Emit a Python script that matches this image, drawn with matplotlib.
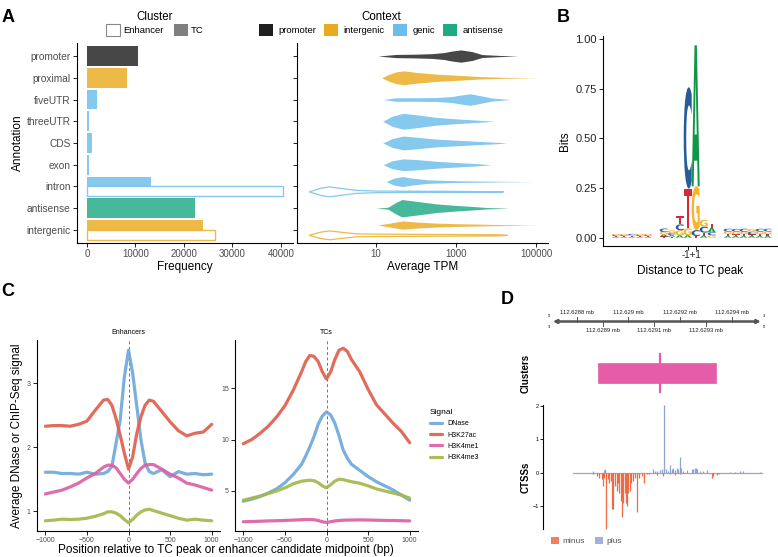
import numpy as np
import matplotlib
matplotlib.use('Agg')
import matplotlib.pyplot as plt
from matplotlib.patches import Rectangle, PathPatch, Patch
from matplotlib.textpath import TextPath
from matplotlib.font_manager import FontProperties
from matplotlib.transforms import Affine2D
from matplotlib.ticker import FixedLocator, FixedFormatter, NullLocator

plt.rcParams['font.family'] = ['Liberation Sans', 'DejaVu Sans']

# ---------------- Panel A data ----------------
annotations = ['promoter', 'proximal', 'fiveUTR', 'threeUTR', 'CDS', 'exon', 'intron', 'antisense', 'intergenic']
annot_context = ['promoter', 'intergenic', 'genic', 'genic', 'genic', 'genic', 'genic', 'antisense', 'intergenic']
tc_freq = [10550, 8220, 2120, 480, 1160, 550, 13150, 22300, 23900]
enh_freq = [0, 0, 0, 0, 0, 0, 40500, 0, 26500]
context_names = ['promoter', 'intergenic', 'genic', 'antisense']
context_colors = ['#000000', '#E69F00', '#56B4E9', '#009E73']

# violin profiles: log10(TPM) knots and half-widths (category units)
prom_x = [1.05, 1.5, 2.0, 2.4, 2.7, 2.9, 3.12, 3.4, 3.65, 4.1, 4.55]
prom_w = [0, .073, .087, .11, .16, .23, .283, .205, .068, .027, 0]
prox_x = [1.14, 1.3, 1.5, 1.7, 2.0, 2.5, 3.0, 3.6, 4.2, 5.0]
prox_w = [0, .14, .27, .32, .25, .17, .12, .055, .023, 0]
five_x = [1.18, 1.5, 2.0, 2.5, 2.9, 3.1, 3.35, 3.6, 3.9, 4.36]
five_w = [0, .082, .082, .09, .14, .2, .265, .18, .07, 0]
three_x = [1.17, 1.4, 1.68, 2.0, 2.5, 3.0, 3.5, 3.97]
three_w = [0, .23, .365, .3, .18, .11, .055, 0]
cds_x = [1.17, 1.4, 1.68, 2.0, 2.5, 3.0, 3.5, 4.0, 4.27]
cds_w = [0, .2, .32, .27, .18, .13, .08, .036, 0]
exon_x = [1.18, 1.4, 1.68, 2.0, 2.5, 3.0, 3.5, 3.88]
exon_w = [0, .18, .27, .24, .16, .105, .055, 0]
intron_tc_x = [1.25, 1.45, 1.66, 1.9, 2.3, 3.0, 4.0, 4.94]
intron_tc_w = [0, .16, .23, .16, .08, .04, .018, 0]
intron_enh_x = [-0.68, -0.4, -0.18, 0.1, 0.5, 1.0, 2.0, 3.0, 4.17]
intron_enh_w = [0, .16, .23, .16, .07, .036, .027, .023, 0]
anti_x = [1.0, 1.3, 1.5, 1.65, 2.0, 2.5, 3.0, 3.5, 3.74, 4.32]
anti_w = [0, .045, .27, .4, .32, .2, .13, .07, .036, 0]
inter_tc_x = [1.04, 1.35, 1.66, 2.0, 2.5, 3.0, 4.0, 5.0]
inter_tc_w = [0, .09, .19, .14, .09, .064, .027, 0]
inter_enh_x = [-0.68, -0.4, -0.16, 0.1, 0.5, 1.0, 2.0, 3.0, 4.0, 4.27]
inter_enh_w = [0, .145, .205, .145, .07, .055, .045, .036, .027, 0]

# ---------------- Panel B data (sequence logo, bits) ----------------
logo_pos = [1, 2, 3, 4, 5, 7, 8, 9, 10, 11, 12, 13, 15, 16, 17, 18, 19, 20]
logo_A = [.004, .004, .004, .004, .004, .010, .008, .012, .012, .71, .010, .022, .008, .008, .008, .008, .008, .008]
logo_C = [.005, .005, .006, .005, .005, .018, .010, .030, .51, .030, .030, .015, .015, .014, .016, .013, .015, .014]
logo_G = [.006, .006, .005, .006, .006, .012, .014, .025, .035, .22, .035, .012, .012, .013, .011, .014, .012, .013]
logo_T = [.004, .004, .004, .004, .004, .006, .005, .040, .20, .008, .015, .022, .010, .009, .010, .009, .010, .010]
logo_tick_pos = [10, 11]
logo_tick_text = '-1+1'

# ---------------- Panel C data ----------------
pos_c = [-1000, -900, -800, -700, -600, -500, -400, -300, -250, -200, -150, -100, -50, 0,
         50, 100, 150, 200, 250, 300, 400, 500, 600, 700, 800, 900, 1000]
enh_dnase = [1.61, 1.61, 1.59, 1.59, 1.58, 1.61, 1.58, 1.59, 1.62, 1.70, 2.06, 2.43, 3.10, 3.52,
             3.16, 2.64, 2.11, 1.75, 1.62, 1.59, 1.65, 1.54, 1.62, 1.58, 1.59, 1.57, 1.58]
enh_h3k27ac = [2.33, 2.34, 2.34, 2.33, 2.36, 2.41, 2.58, 2.74, 2.75, 2.66, 2.45, 2.19, 1.91, 1.66,
               1.85, 2.22, 2.48, 2.66, 2.74, 2.72, 2.56, 2.40, 2.26, 2.18, 2.22, 2.24, 2.36]
enh_h3k4me1 = [1.27, 1.30, 1.33, 1.38, 1.44, 1.52, 1.59, 1.69, 1.72, 1.72, 1.68, 1.59, 1.50, 1.44,
               1.50, 1.59, 1.67, 1.72, 1.73, 1.73, 1.66, 1.58, 1.52, 1.44, 1.41, 1.37, 1.33]
enh_h3k4me3 = [0.85, 0.86, 0.875, 0.87, 0.875, 0.89, 0.92, 0.96, 0.99, 0.99, 0.97, 0.93, 0.87, 0.82,
               0.87, 0.94, 0.99, 1.02, 1.03, 1.01, 0.97, 0.93, 0.89, 0.86, 0.875, 0.86, 0.85]
tc_dnase = [4.0, 4.2, 4.45, 4.8, 5.2, 5.8, 6.6, 7.6, 8.4, 9.3, 10.3, 11.5, 12.3, 12.7,
            12.4, 11.6, 10.4, 9.0, 8.2, 7.6, 7.0, 6.4, 5.9, 5.5, 5.1, 4.6, 4.1]
tc_h3k27ac = [9.6, 10.0, 10.6, 11.3, 12.2, 13.3, 14.8, 16.6, 17.6, 18.2, 18.1, 17.6, 16.6, 15.9,
              16.6, 17.8, 18.7, 18.9, 18.6, 17.8, 16.6, 14.9, 13.4, 12.5, 11.6, 10.8, 9.7]
tc_h3k4me1 = [2.0, 2.02, 2.05, 2.08, 2.1, 2.13, 2.16, 2.2, 2.22, 2.22, 2.2, 2.12, 2.0, 1.93,
              2.0, 2.08, 2.12, 2.15, 2.16, 2.17, 2.18, 2.17, 2.15, 2.13, 2.12, 2.1, 2.08]
tc_h3k4me3 = [4.1, 4.3, 4.5, 4.75, 5.0, 5.3, 5.7, 5.95, 6.0, 6.05, 6.0, 5.8, 5.5, 5.3,
              5.6, 5.95, 6.15, 6.1, 6.0, 5.9, 5.75, 5.5, 5.2, 5.0, 4.8, 4.6, 4.3]
signal_names = ['DNase', 'H3K27ac', 'H3K4me1', 'H3K4me3']
signal_colors = ['#6FA8DC', '#E0604E', '#DD5FA6', '#A3B84C']

# ---------------- Panel D data ----------------
minus_pos = [112628864, 112628877, 112628887, 112628896, 112628903, 112628907, 112628913, 112628920,
             112628926, 112628931, 112628938, 112628941, 112628948, 112628954, 112628959, 112628965,
             112628970, 112628975, 112628980, 112628985, 112628989, 112628993, 112628999, 112629006,
             112629011, 112629017, 112629024, 112629034, 112629042, 112629051, 112629060, 112629070,
             112629080, 112629109, 112629132, 112629160, 112629180, 112629199, 112629321, 112629328,
             112629340, 112629351]
minus_val = [-0.05, -0.1, -0.15, -0.2, -0.4, -0.15, -1.69, -0.2, -0.3, -0.25, -1.1, -1.1, -0.4, -0.55,
             -0.3, -0.6, -0.85, -1.32, -0.9, -0.6, -0.9, -1.0, -0.6, -0.55, -0.3, -0.25, -0.15, -1.17,
             -0.15, -0.1, -0.3, -0.05, -0.05, -0.08, -0.1, -0.05, -0.08, -0.05, -0.15, -0.1, -0.08, -0.05]
plus_pos = [112628864, 112628907, 112628911, 112629096, 112629102, 112629111, 112629122, 112629129,
            112629137, 112629145, 112629154, 112629160, 112629167, 112629173, 112629180, 112629186,
            112629192, 112629198, 112629204, 112629212, 112629225, 112629244, 112629250, 112629255,
            112629261, 112629266, 112629276, 112629289, 112629302, 112629392, 112629411, 112629430,
            112629441, 112629508]
plus_val = [0.04, 0.08, 0.1, 0.12, 0.05, 0.05, 0.08, 0.1, 2.01, 0.12, 0.05, 0.22, 0.1, 0.15, 0.08,
            0.15, 0.12, 0.45, 0.15, 0.05, 0.08, 0.1, 0.12, 0.15, 0.15, 0.12, 0.05, 0.05, 0.08, 0.03,
            0.03, 0.05, 0.05, 0.03]
ctss_range = [112628787, 112629514]
cluster_start, cluster_end = 112628883, 112629337
cluster_peak = 112629122
genome_ticks = [112628800, 112628900, 112629000, 112629100, 112629200, 112629300, 112629400]

# =====================================================================
W, H = 778, 557
fig = plt.figure(figsize=(W / 100, H / 100), dpi=100)


def add_ax(l, t, r, b):
    return fig.add_axes([l / W, 1 - b / H, (r - l) / W, (b - t) / H])


def classic(ax, tick_color='#4D4D4D', size=7):
    for s in ['top', 'right']:
        ax.spines[s].set_visible(False)
    for s in ['left', 'bottom']:
        ax.spines[s].set_linewidth(0.8)
    ax.tick_params(axis='both', labelsize=size, labelcolor=tick_color, length=3, width=0.6, pad=1.5)


ALPHA = 0.72
cmap = dict(zip(context_names, context_colors))

# ---------------- Panel A left: bars ----------------
axA = add_ax(77, 43, 293, 243)
classic(axA)
n = len(annotations)
ypos = np.arange(n)[::-1]
for y, c, tc, en in zip(ypos, annot_context, tc_freq, enh_freq):
    col = cmap[c]
    if en > 0:
        axA.barh(y + 0.225, tc, height=0.45, color=col, alpha=ALPHA, lw=0)
        axA.barh(y - 0.225, en, height=0.45, facecolor='white', edgecolor=col, alpha=ALPHA, lw=1.0)
    else:
        axA.barh(y, tc, height=0.9, color=col, alpha=ALPHA, lw=0)
axA.set_yticks(ypos)
axA.set_yticklabels(annotations)
axA.tick_params(axis='y', labelsize=7.3)
axA.set_ylim(-0.6, n - 0.4)
fmax = max(max(tc_freq), max(enh_freq))
axA.set_xlim(-0.05 * fmax, fmax * 1.05)
axA.set_xticks([0, 10000, 20000, 30000, 40000])
axA.set_xlabel('Frequency', fontsize=8.5, labelpad=1)
axA.set_ylabel('Annotation', fontsize=8.5, labelpad=2)

# ---------------- Panel A right: violins ----------------
axV = add_ax(297, 43, 548, 243)
classic(axV)
axV.set_xscale('log')
axV.set_ylim(-0.6, n - 0.4)
axV.set_yticks(ypos)
axV.set_yticklabels([''] * n)
axV.set_xlim(10 ** -0.975, 10 ** 5.3)
axV.xaxis.set_major_locator(FixedLocator([10, 1000, 100000]))
axV.xaxis.set_major_formatter(FixedFormatter(['10', '1000', '100000']))
axV.xaxis.set_minor_locator(NullLocator())
axV.set_xlabel('Average TPM', fontsize=8.5, labelpad=1)

violins = [
    (prom_x, prom_w, 0, 'promoter', 0.0, True),
    (prox_x, prox_w, 1, 'intergenic', 0.0, True),
    (five_x, five_w, 2, 'genic', 0.0, True),
    (three_x, three_w, 3, 'genic', 0.0, True),
    (cds_x, cds_w, 4, 'genic', 0.0, True),
    (exon_x, exon_w, 5, 'genic', 0.0, True),
    (intron_tc_x, intron_tc_w, 6, 'genic', 0.225, True),
    (intron_enh_x, intron_enh_w, 6, 'genic', -0.225, False),
    (anti_x, anti_w, 7, 'antisense', 0.0, True),
    (inter_tc_x, inter_tc_w, 8, 'intergenic', 0.225, True),
    (inter_enh_x, inter_enh_w, 8, 'intergenic', -0.225, False),
]
for lx, w, idx, c, off, filled in violins:
    x = 10 ** np.array(lx)
    w = np.array(w)
    yc = ypos[idx] + off
    col = cmap[c]
    if filled:
        axV.fill_between(x, yc - w, yc + w, color=col, alpha=ALPHA, lw=0)
    else:
        axV.fill_between(x, yc - w, yc + w, facecolor='white', edgecolor=col, alpha=ALPHA, lw=0.9)

# Legends for panel A
h1 = [Patch(facecolor='white', edgecolor='#888888', lw=0.8), Patch(facecolor='#7F7F7F', edgecolor='none')]
fig.legend(h1, ['Enhancer', 'TC'], title='Cluster', ncol=2, loc='upper center',
           bbox_to_anchor=(155 / W, 1 - 4 / H), frameon=False, fontsize=6.8, title_fontsize=8.3,
           handlelength=1.5, handleheight=1.5, handletextpad=0.35, columnspacing=1.0, borderpad=0.2,
           labelspacing=0.2)
h2 = [Patch(facecolor=c, edgecolor='none', alpha=0.88) for c in context_colors]
fig.legend(h2, context_names, title='Context', ncol=4, loc='upper center',
           bbox_to_anchor=(381 / W, 1 - 4 / H), frameon=False, fontsize=6.8, title_fontsize=8.3,
           handlelength=1.5, handleheight=1.5, handletextpad=0.6, columnspacing=0.8, borderpad=0.2,
           labelspacing=0.2)

# ---------------- Panel B: sequence logo ----------------
axB = add_ax(603, 36, 778, 246)
classic(axB, tick_color='#222222', size=8)
axB.set_xlim(-0.6, 21.3)
axB.set_ylim(-0.042, 1.015)
axB.set_yticks([0, 0.25, 0.5, 0.75, 1.0])
axB.set_yticklabels(['0.00', '0.25', '0.50', '0.75', '1.00'])
axB.set_xticks(logo_tick_pos)
axB.set_xticklabels([''] * len(logo_tick_pos))
axB.text(np.mean(logo_tick_pos), -0.018, logo_tick_text, transform=axB.get_xaxis_transform(),
         ha='center', va='top', fontsize=7, color='#222222')
axB.set_ylabel('Bits', fontsize=8.5, labelpad=3)
axB.set_xlabel('Distance to TC peak', fontsize=8.5, labelpad=9)
letter_colors = {'A': '#109648', 'C': '#255C99', 'G': '#F7B32B', 'T': '#D62839'}
fp = FontProperties(family='DejaVu Sans', weight='bold')


def draw_letter(ax, letter, xc, y0, h, color, width=1.0):
    tp = TextPath((0, 0), letter, size=1, prop=fp)
    bb = tp.get_extents()
    tr = Affine2D().translate(-bb.x0, -bb.y0).scale(width / bb.width, h / bb.height).translate(xc - width / 2, y0)
    ax.add_patch(PathPatch(tr.transform_path(tp), facecolor=color, lw=0))


for i, p in enumerate(logo_pos):
    hs = [('A', logo_A[i]), ('C', logo_C[i]), ('G', logo_G[i]), ('T', logo_T[i])]
    hs.sort(key=lambda t: t[1])
    base = 0.0
    for L, hgt in hs:
        draw_letter(axB, L, p, base, hgt, letter_colors[L])
        base += hgt

# ---------------- Panel C: signal profiles ----------------
axC1 = add_ax(37, 340, 220, 531)
axC2 = add_ax(235, 340, 418, 531)
left_series = [enh_dnase, enh_h3k27ac, enh_h3k4me1, enh_h3k4me3]
right_series = [tc_dnase, tc_h3k27ac, tc_h3k4me1, tc_h3k4me3]
for ax, series, title in [(axC1, left_series, 'Enhancers'), (axC2, right_series, 'TCs')]:
    classic(ax, size=5)
    ax.axvline(0, color='#777777', lw=0.7, ls=(0, (3, 2.5)))
    for vals, col, name in zip(series, signal_colors, signal_names):
        ax.plot(pos_c, vals, color=col, lw=2.3, alpha=0.92, solid_capstyle='round', label=name)
    ax.set_xlim(-1100, 1100)
    ax.set_xticks([-1000, -500, 0, 500, 1000])
    ax.set_title(title, fontsize=5, pad=4)
axC1.set_ylim(0.69, 3.68)
axC1.set_yticks([1, 2, 3])
axC2.set_ylim(1.1, 19.7)
axC2.set_yticks([5, 10, 15])
axC1.set_ylabel('Average DNase or ChIP-Seq signal', fontsize=8.5, labelpad=3)
fig.text(226 / W, 1 - 550 / H, 'Position relative to TC peak or enhancer candidate midpoint (bp)',
         fontsize=8.5, ha='center', va='center')
axC2.legend(loc='upper left', bbox_to_anchor=(1.03, 0.67), frameon=False, fontsize=5,
            title='Signal', title_fontsize=6, handlelength=1.8, labelspacing=0.6,
            alignment='left')

# ---------------- Panel D: genome browser ----------------
xl = (112628670, 112629527)
axG = add_ax(543, 308, 765, 335)
axG.set_xlim(*xl)
axG.set_ylim(-1, 1)
axG.axis('off')
axG.annotate('', xy=(112629511, 0), xytext=(112628708, 0),
             arrowprops=dict(arrowstyle='<|-|>', color='#555555', lw=1.8, mutation_scale=5,
                             shrinkA=0, shrinkB=0))
for i, t in enumerate(genome_ticks):
    lab = ('%.4f' % (t / 1e6)).rstrip('0') + ' mb'
    if i % 2 == 0:
        axG.plot([t, t], [0, 0.3], color='#333333', lw=0.6)
        axG.text(t, 0.45, lab, fontsize=4.2, ha='center', va='bottom', color='#222222')
    else:
        axG.plot([t, t], [0, -0.3], color='#333333', lw=0.6)
        axG.text(t, -0.45, lab, fontsize=4.2, ha='center', va='top', color='#222222')
axG.text(112628700, 0.25, "5'", fontsize=3, ha='right', va='bottom')
axG.text(112628700, -0.25, "3'", fontsize=3, ha='right', va='top')
axG.text(112629520, 0.25, "3'", fontsize=3, ha='left', va='bottom')
axG.text(112629520, -0.25, "5'", fontsize=3, ha='left', va='top')

axK = add_ax(543, 345, 765, 400)
axK.set_xlim(*xl)
axK.set_ylim(0, 1)
axK.axis('off')
axK.add_patch(Rectangle((cluster_start, 0.315), cluster_end - cluster_start, 0.352,
                        facecolor='#E55CA8', edgecolor='#E55CA8', lw=0.5))
axK.plot([cluster_peak, cluster_peak], [0.14, 0.83], color='#E55CA8', lw=1.6)

axT = add_ax(543, 400, 765, 531)
axT.set_xlim(*xl)
axT.set_ylim(-1.75, 2.17)
for s in ['top', 'right', 'bottom']:
    axT.spines[s].set_visible(False)
axT.spines['left'].set_linewidth(0.8)
axT.spines['left'].set_bounds(min(minus_val), max(plus_val))
axT.set_xticks([])
axT.set_yticks([-1, 0, 1, 2])
axT.tick_params(axis='y', labelsize=4, length=2, width=0.6, pad=1)
axT.plot(ctss_range, [0, 0], color='#A6A6A6', lw=0.9, zorder=1)
axT.vlines(minus_pos, 0, minus_val, color='#EF6A45', lw=0.9, zorder=2)
axT.vlines(plus_pos, 0, plus_val, color='#8FA3D3', lw=0.9, zorder=2)

fig.text(526 / W, 1 - 373 / H, 'Clusters', rotation=90, fontsize=7, fontweight='bold',
         ha='center', va='center')
fig.text(526 / W, 1 - 477 / H, 'CTSSs', rotation=90, fontsize=7, fontweight='bold',
         ha='center', va='center')
hD = [Patch(facecolor='#EF6A45', edgecolor='none', alpha=0.85), Patch(facecolor='#8FA3D3', edgecolor='none', alpha=0.85)]
fig.legend(hD, ['minus', 'plus'], ncol=2, loc='center left', bbox_to_anchor=(546 / W, 1 - 541 / H),
           frameon=False, fontsize=6, labelcolor='#555555', handlelength=0.9, handleheight=0.9,
           handletextpad=0.5, columnspacing=1.2, borderpad=0.1)

# panel letters
for lab, x, y in [('A', 8, 18), ('B', 563, 17), ('C', 8, 292), ('D', 507, 300)]:
    fig.text(x / W, 1 - y / H, lab, fontsize=13, fontweight='bold', ha='center', va='center')

fig.savefig('out.png', dpi=100)
